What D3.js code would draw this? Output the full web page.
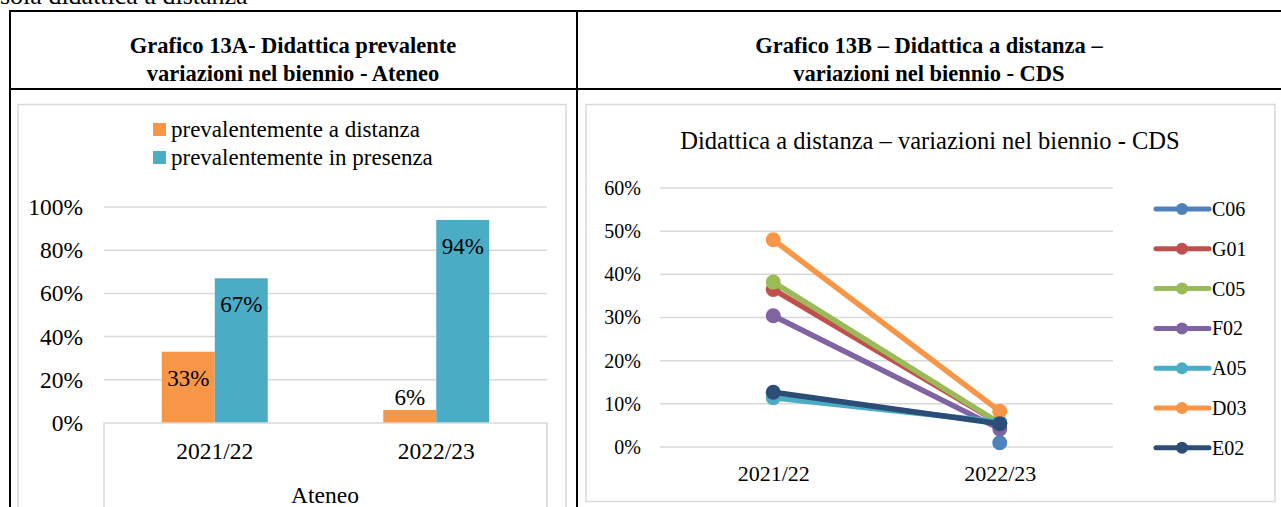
<!DOCTYPE html>
<html><head><meta charset="utf-8">
<script src="https://cdn.jsdelivr.net/npm/d3@7"></script>
<style>body{margin:0;background:#fff}svg{display:block}svg text{font-family:"Liberation Serif","DejaVu Serif",serif !important;fill:#000}</style>
</head><body>
<svg id="c" width="1281" height="507"></svg>
<script>
// ---- Data ----
const barCategories = ["2021/22", "2022/23"];
const barSeries = ["prevalentemente a distanza", "prevalentemente in presenza"];
const barDistanza = [0.33, 0.06];
const barPresenza = [0.67, 0.94];
const barLabels = [["33%", "6%"], ["67%", "94%"]];
const barTicks = [0, 0.2, 0.4, 0.6, 0.8, 1.0];
const barColors = ["#F79646", "#4BACC6"];

const lineCategories = ["2021/22", "2022/23"];
const lineNames = ["C06", "G01", "C05", "F02", "A05", "D03", "E02"];
const C06 = [null, 0.01];
const G01 = [0.365, 0.055];
const C05 = [0.382, 0.055];
const F02 = [0.304, 0.042];
const A05 = [0.114, 0.058];
const D03 = [0.48, 0.083];
const E02 = [0.127, 0.054];
const lineValues = [C06, G01, C05, F02, A05, D03, E02];
const lineColors = ["#4F81BD", "#C0504D", "#9BBB59", "#8064A2", "#4BACC6", "#F79646", "#2C4D75"];
const lineTicks = [0, 0.1, 0.2, 0.3, 0.4, 0.5, 0.6];

const svg = d3.select("#c");
const fmt = d3.format(".0%");
const SERIF = '"Liberation Serif","DejaVu Serif",serif';

// ---- Page / table ----
svg.append("text").attr("x", 0).attr("y", 4).attr("font-size", 26).text("sola didattica a distanza");
const tbl = svg.append("g").attr("stroke", "#000").attr("stroke-width", 2);
tbl.append("line").attr("x1", 9).attr("x2", 1281).attr("y1", 11).attr("y2", 11);
tbl.append("line").attr("x1", 9).attr("x2", 1281).attr("y1", 89).attr("y2", 89);
tbl.append("line").attr("x1", 10).attr("x2", 10).attr("y1", 10).attr("y2", 507);
tbl.append("line").attr("x1", 577).attr("x2", 577).attr("y1", 10).attr("y2", 507);

function title(x, lines, fs) {
  lines.forEach((t, i) => svg.append("text").attr("x", x).attr("y", 53 + i * 28)
    .attr("text-anchor", "middle").attr("font-size", fs).attr("font-weight", "bold").text(t));
}
title(293, ["Grafico 13A- Didattica prevalente", "variazioni nel biennio - Ateneo"], 22.5);
title(929, ["Grafico 13B \u2013 Didattica a distanza \u2013", "variazioni nel biennio - CDS"], 22.5);

// chart frames
svg.append("rect").attr("x", 18).attr("y", 104.5).attr("width", 548).attr("height", 420)
  .attr("fill", "none").attr("stroke", "#D9D9D9").attr("stroke-width", 1.5);
svg.append("rect").attr("x", 586).attr("y", 104.5).attr("width", 689).attr("height", 397)
  .attr("fill", "none").attr("stroke", "#D9D9D9").attr("stroke-width", 1.5);

// ---- Bar chart ----
{
  const x0 = d3.scaleBand().domain(barCategories).range([104, 547]).paddingInner(0.5214).paddingOuter(0.2607);
  const x1 = d3.scaleBand().domain(barSeries).range([0, x0.bandwidth()]);
  const y = d3.scaleLinear().domain([0, 1]).range([423, 207]);
  const g = svg.append("g");
  g.selectAll(".grid").data(barTicks.filter(t => t > 0)).join("line")
    .attr("x1", 104).attr("x2", 547).attr("y1", d => y(d)).attr("y2", d => y(d))
    .attr("stroke", "#D9D9D9").attr("stroke-width", 1.5);
  const ya = d3.axisLeft(y).tickValues(barTicks).tickFormat(fmt).tickSize(0).tickPadding(21);
  const yg = g.append("g").attr("transform", "translate(104,0)").call(ya);
  yg.select(".domain").remove();
  yg.selectAll("text").attr("font-size", 23.5).style("font-family", SERIF).attr("fill", "#000").attr("dy", "0.32em");
  const vals = [barDistanza, barPresenza];
  barSeries.forEach((s, si) => {
    g.selectAll(".b" + si).data(barCategories).join("rect")
      .attr("x", d => x0(d) + x1(s)).attr("width", x1.bandwidth())
      .attr("y", (d, i) => y(vals[si][i])).attr("height", (d, i) => y(0) - y(vals[si][i]))
      .attr("fill", barColors[si]);
    g.selectAll(".l" + si).data(barCategories).join("text")
      .attr("x", d => x0(d) + x1(s) + x1.bandwidth() / 2)
      .attr("y", (d, i) => {
        const v = vals[si][i];
        return (y(0) - y(v)) > 40 ? y(v) + 34 : y(v) - 5;
      })
      .attr("text-anchor", "middle").attr("font-size", 23)
      .text((d, i) => barLabels[si][i]);
  });
  const ax = g.append("g").attr("stroke", "#D9D9D9").attr("stroke-width", 1.5).attr("fill", "none");
  ax.append("path").attr("d", `M104,510V423H547V510`);
  const xa = d3.axisBottom(x0).tickSize(0).tickPadding(0);
  const xg = g.append("g").attr("transform", "translate(0,423)").call(xa);
  xg.select(".domain").remove();
  xg.selectAll("text").attr("font-size", 23.5).style("font-family", SERIF).attr("fill", "#000").attr("y", 36).attr("dy", 0);
  g.append("text").attr("x", 325).attr("y", 503).attr("text-anchor", "middle").attr("font-size", 23.5).text("Ateneo");
  barSeries.forEach((s, i) => {
    g.append("rect").attr("x", 153).attr("y", 123 + i * 28).attr("width", 13).attr("height", 13).attr("fill", barColors[i]);
    g.append("text").attr("x", 171).attr("y", 137 + i * 28).attr("font-size", 23).text(s);
  });
}

// ---- Line chart ----
{
  const x = d3.scalePoint().domain(lineCategories).range([660, 1113]).padding(0.5);
  const y = d3.scaleLinear().domain([0, 0.6]).range([447, 188]);
  const g = svg.append("g");
  g.append("text").attr("x", 930).attr("y", 149).attr("text-anchor", "middle").attr("font-size", 24.5)
    .text("Didattica a distanza \u2013 variazioni nel biennio - CDS");
  g.selectAll(".grid").data(lineTicks).join("line")
    .attr("x1", 660).attr("x2", 1113).attr("y1", d => y(d)).attr("y2", d => y(d))
    .attr("stroke", "#D9D9D9").attr("stroke-width", 1.5);
  const ya = d3.axisLeft(y).tickValues(lineTicks).tickFormat(fmt).tickSize(0).tickPadding(19);
  const yg = g.append("g").attr("transform", "translate(660,0)").call(ya);
  yg.select(".domain").remove();
  yg.selectAll("text").attr("font-size", 20).style("font-family", SERIF).attr("fill", "#000").attr("dy", "0.32em");
  const xa = d3.axisBottom(x).tickSize(0).tickPadding(0);
  const xg = g.append("g").attr("transform", "translate(0,447)").call(xa);
  xg.select(".domain").remove();
  xg.selectAll("text").attr("font-size", 22).style("font-family", SERIF).attr("fill", "#000").attr("y", 34).attr("dy", 0);

  const line = d3.line().defined(d => d.v != null).x(d => x(d.c)).y(d => y(d.v));
  lineNames.forEach((n, i) => {
    const pts = lineCategories.map((c, j) => ({ c, v: lineValues[i][j] }));
    g.append("path").datum(pts).attr("d", line).attr("fill", "none")
      .attr("stroke", lineColors[i]).attr("stroke-width", 5.5).attr("stroke-linecap", "round");
    g.selectAll(".m" + i).data(pts.filter(d => d.v != null)).join("circle")
      .attr("cx", d => x(d.c)).attr("cy", d => y(d.v)).attr("r", 7.5).attr("fill", lineColors[i]);
  });
  lineNames.forEach((n, i) => {
    const ly = 209 + i * 39.8;
    g.append("line").attr("x1", 1156).attr("x2", 1209).attr("y1", ly).attr("y2", ly)
      .attr("stroke", lineColors[i]).attr("stroke-width", 5).attr("stroke-linecap", "round");
    g.append("circle").attr("cx", 1182).attr("cy", ly).attr("r", 6).attr("fill", lineColors[i]);
    g.append("text").attr("x", 1212).attr("y", ly).attr("dy", "0.35em").attr("font-size", 20).text(n);
  });
}
</script>
</body></html>
